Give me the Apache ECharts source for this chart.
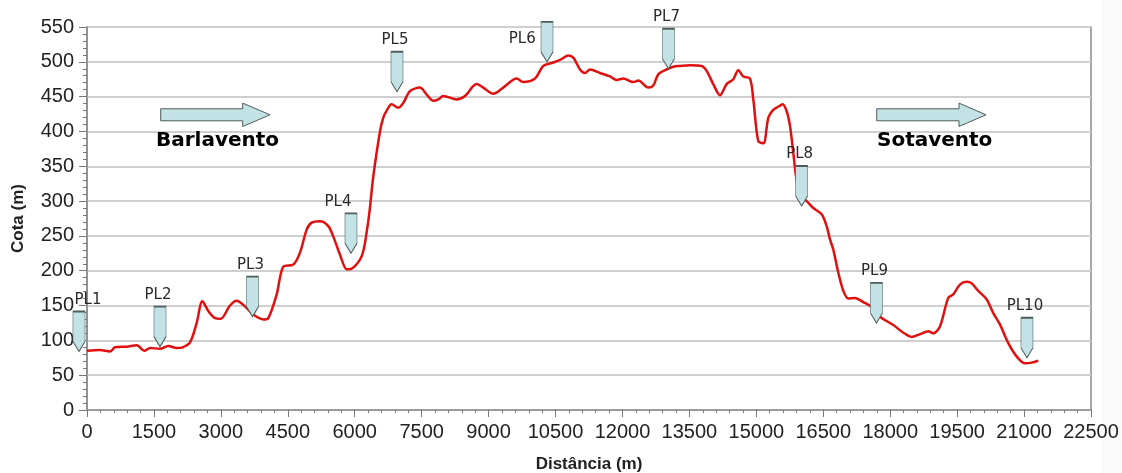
<!DOCTYPE html>
<html>
<head>
<meta charset="utf-8">
<script src="https://cdn.jsdelivr.net/npm/echarts@6/dist/echarts.min.js"></script>
<style>
html,body{margin:0;padding:0;background:#fff;}
#chart{width:1122px;height:473px;}
</style>
</head>
<body>
<div id="chart"></div>
<script>
// Profile data: distance (m) and elevation (m)
const distance = [0,290,515,628,890,1114,1286,1413,1637,1823,2010,2145,2309,2458,2585,2720,2869,2996,3205,3354,3504,3728,3952,4064,4251,4400,4625,4774,4923,5035,5222,5408,5520,5670,5820,5932,6118,6200,6290,6340,6417,6566,6640,6716,6827,6977,7089,7238,7462,7612,7761,7873,7985,8284,8471,8732,8881,9105,9329,9628,9777,10039,10226,10450,10637,10786,10898,11048,11160,11272,11496,11720,11869,12019,12243,12355,12579,12691,12803,12990,13139,13289,13513,13774,13886,14035,14185,14334,14484,14596,14708,14857,14932,15044,15160,15269,15380,15530,15590,15680,15754,15829,15889,15979,16128,16278,16464,16576,16651,16726,16838,16950,17062,17211,17397,17584,17771,18070,18294,18481,18668,18854,18966,19115,19301,19413,19563,19712,19824,19973,20160,20310,20459,20646,20833,21020,21170,21319];
const elevation = [85,86,84,90,91,93,85,89,88,92,89,90,97,125,156,142,132,131,150,157,151,137,130,132,166,206,209,226,259,269,271,264,249,223,202,203,216,230,265,290,336,400,420,430,439,434,441,458,463,453,444,446,451,446,451,468,463,454,463,476,471,476,494,499,504,509,506,489,484,489,484,479,474,476,471,473,463,466,482,489,493,494,495,494,487,468,452,468,475,488,479,476,446,386,383,420,431,437,439,429,408,369,336,307,300,290,281,264,245,230,197,171,160,161,155,148,134,122,111,105,109,113,110,120,161,166,180,184,182,171,159,139,123,96,77,67,68,71];

// Marker (PL) annotations: name, distance and elevation of pointer tip
const plNames = ['PL1','PL2','PL3','PL4','PL5','PL6','PL7','PL8','PL9','PL10'];
const plX = [-180,1636,3709,5916,6947,10309,13031,16015,17692,21065];
const plY = [84,91,134,225,457,500,490,293,125,75];

// Axis ticks
const xMin = 0, xMax = 22500, xStep = 1500;
const yMin = 0, yMax = 550, yStep = 50;

// label placement styling per marker
const plLabelStyle = {
  PL1:{offset:[9,0]}, PL4:{offset:[-13,0]}, PL6:{position:'left',distance:5,offset:[0,-3]}
};

const chart = echarts.init(document.getElementById('chart'), null, {renderer:'canvas'});

const lineData = distance.map((d,i)=>[d, elevation[i]]);
const plData = plNames.map((n,i)=>{
  const s = plLabelStyle[n] || {};
  return {
    name:n, value:[plX[i], plY[i]],
    label:{position:s.position||'top', distance:s.distance!=null?s.distance:3, offset:s.offset||[-2,0]}
  };
});

const tealFill = '#c3e2e5', edge = '#4e5c5c';
function arrow(x0, x1, x2, yc){
  return {type:'polygon', z:100, shape:{points:[[x0,yc-6],[x1,yc-6],[x1,yc-11.7],[x2,yc],[x1,yc+11.7],[x1,yc+6],[x0,yc+6]]},
    style:{fill:tealFill, stroke:edge, lineWidth:1}};
}

const option = {
  backgroundColor:'#ffffff',
  animation:false,
  grid:{left:87, right:31, top:27, bottom:63, containLabel:false, outerBoundsMode:'none',
        show:true, borderColor:'#8c8c8c', borderWidth:1.5, backgroundColor:'transparent'},
  xAxis:{
    type:'value', min:xMin, max:xMax, interval:xStep,
    name:'Distância (m)', nameLocation:'middle', nameGap:46,
    nameTextStyle:{fontFamily:'Liberation Sans', fontWeight:'bold', fontSize:17, color:'#222'},
    axisLine:{show:true, onZero:false, lineStyle:{color:'#8c8c8c', width:1.5}},
    axisTick:{show:true, length:7, lineStyle:{color:'#777'}},
    minorTick:{show:true, splitNumber:5, length:3, lineStyle:{color:'#777'}},
    axisLabel:{fontFamily:'Liberation Sans', fontSize:20, color:'#222', margin:12, formatter:(v)=>String(v)},
    splitLine:{show:false}
  },
  yAxis:{
    type:'value', min:yMin, max:yMax, interval:yStep,
    name:'Cota (m)', nameLocation:'middle', nameGap:60, nameRotate:90,
    nameTextStyle:{fontFamily:'Liberation Sans', fontWeight:'bold', fontSize:17, color:'#222'},
    axisLine:{show:true, onZero:false, lineStyle:{color:'#8c8c8c', width:1.5}},
    axisTick:{show:true, length:8, lineStyle:{color:'#777'}},
    minorTick:{show:true, splitNumber:5, length:4, lineStyle:{color:'#777'}},
    axisLabel:{fontFamily:'Liberation Sans', fontSize:20, color:'#222', margin:13, formatter:(v)=>String(v)},
    splitLine:{show:true, lineStyle:{color:'#cfcfcf', width:2}}
  },
  series:[
    {
      type:'line', data:lineData, showSymbol:false, smooth:0.3,
      lineStyle:{color:'#e01010', width:2.5}, z:5
    },
    {
      type:'scatter', data:plData, clip:false, z:20,
      symbol:'path://M0,0 L12,0 L12,30 L6,40 L0,30 Z',
      symbolSize:[12,40], symbolOffset:[0,'-50%'],
      itemStyle:{color:tealFill, borderColor:edge, borderWidth:1, opacity:1},
      label:{show:true, formatter:'{b}', fontFamily:'DejaVu Sans', fontSize:15, color:'#2a2a2a'}
    }
  ],
  graphic:[
    {type:'rect', left:1101, top:0, shape:{width:21, height:473}, style:{fill:'#fafafa'}, z:-1},
    arrow(160.7, 242.7, 270, 114.8),
    arrow(876.7, 959, 986, 114.8),
    {type:'text', z:100, left:156, top:131, style:{text:'Barlavento', font:'bold 20px "DejaVu Sans"', fill:'#000'}},
    {type:'text', z:100, left:877, top:131, style:{text:'Sotavento', font:'bold 20px "DejaVu Sans"', fill:'#000'}}
  ]
};
chart.setOption(option);
</script>
</body>
</html>
